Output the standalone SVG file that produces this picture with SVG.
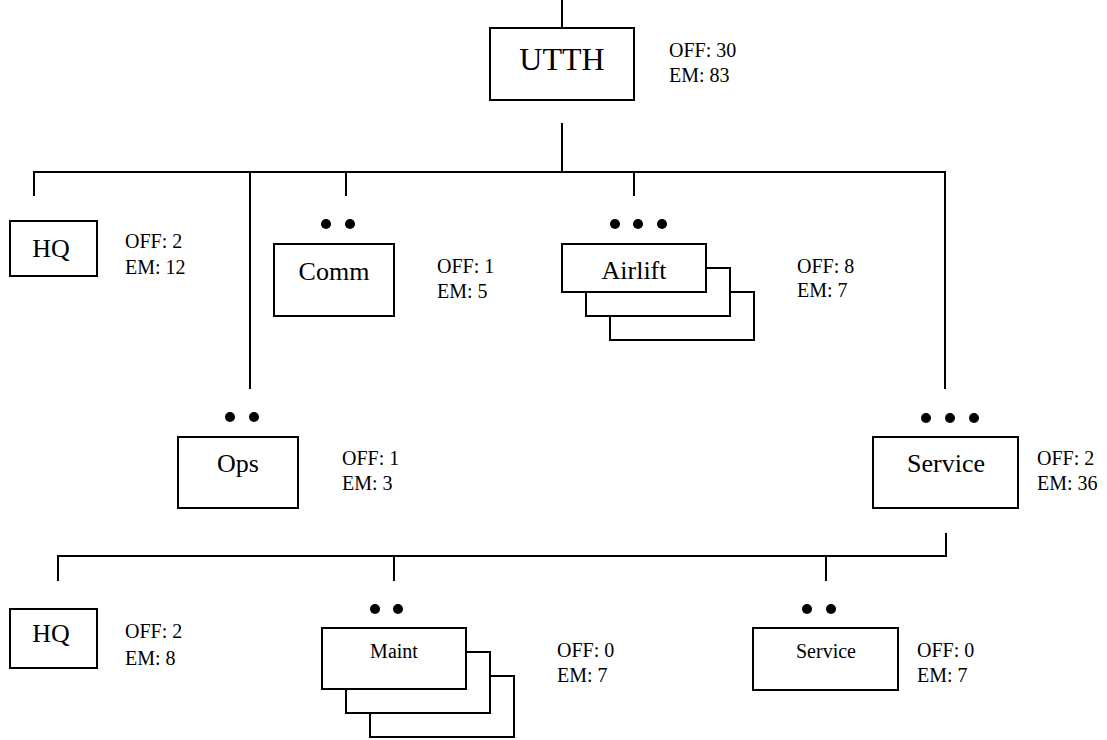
<svg xmlns="http://www.w3.org/2000/svg" width="1107" height="740" viewBox="0 0 1107 740">
<style>
.box{fill:#fff;stroke:#000;stroke-width:2}
.ln{stroke:#000;stroke-width:2;fill:none}
.t{font-family:"Liberation Serif","Times New Roman","DejaVu Serif",serif;fill:#000;text-anchor:middle}
.big{font-size:32px}
.mid{font-size:26px}
.sm{font-size:20px}
.info{font-family:"Liberation Serif","Times New Roman","DejaVu Serif",serif;font-size:20px;fill:#000}
.dot{fill:#000}
</style>
<rect width="1107" height="740" fill="#fff"/>
<g id="connectors">
<line class="ln" x1="562" y1="0" x2="562" y2="28"/>
<line class="ln" x1="562" y1="123" x2="562" y2="172"/>
<line class="ln" x1="33" y1="172" x2="946" y2="172"/>
<line class="ln" x1="34" y1="171" x2="34" y2="196"/>
<line class="ln" x1="250" y1="171" x2="250" y2="389"/>
<line class="ln" x1="346" y1="171" x2="346" y2="196"/>
<line class="ln" x1="634" y1="171" x2="634" y2="196"/>
<line class="ln" x1="945" y1="171" x2="945" y2="389"/>
<line class="ln" x1="946" y1="533" x2="946" y2="557"/>
<line class="ln" x1="57" y1="556" x2="947" y2="556"/>
<line class="ln" x1="58" y1="555" x2="58" y2="581"/>
<line class="ln" x1="394" y1="555" x2="394" y2="581"/>
<line class="ln" x1="826" y1="555" x2="826" y2="581"/>
</g>
<g id="utth">
<rect class="box" x="490" y="28" width="144" height="72"/>
<text class="t big" x="562" y="70">UTTH</text>
<text class="info" x="669" y="57">OFF: 30</text>
<text class="info" x="669" y="82">EM: 83</text>
</g>
<g id="hq1">
<rect class="box" x="10" y="221" width="87" height="55"/>
<text class="t mid" x="51" y="257">HQ</text>
<text class="info" x="125" y="248">OFF: 2</text>
<text class="info" x="125" y="274">EM: 12</text>
</g>
<g id="comm">
<circle class="dot" cx="326" cy="224" r="5"/>
<circle class="dot" cx="350" cy="224" r="5"/>
<rect class="box" x="274" y="244" width="120" height="72"/>
<text class="t mid" x="334" y="280">Comm</text>
<text class="info" x="437" y="273">OFF: 1</text>
<text class="info" x="437" y="298">EM: 5</text>
</g>
<g id="airlift">
<circle class="dot" cx="615" cy="224" r="5"/>
<circle class="dot" cx="638" cy="224" r="5"/>
<circle class="dot" cx="662" cy="224" r="5"/>
<rect class="box" x="610" y="292" width="144" height="48"/>
<rect class="box" x="586" y="268" width="144" height="48"/>
<rect class="box" x="562" y="244" width="144" height="48"/>
<text class="t mid" x="634" y="279">Airlift</text>
<text class="info" x="797" y="273">OFF: 8</text>
<text class="info" x="797" y="297">EM: 7</text>
</g>
<g id="ops">
<circle class="dot" cx="230" cy="417" r="5"/>
<circle class="dot" cx="254" cy="417" r="5"/>
<rect class="box" x="178" y="437" width="120" height="71"/>
<text class="t mid" x="238" y="472">Ops</text>
<text class="info" x="342" y="465">OFF: 1</text>
<text class="info" x="342" y="490">EM: 3</text>
</g>
<g id="service1">
<circle class="dot" cx="926" cy="418" r="5"/>
<circle class="dot" cx="950" cy="418" r="5"/>
<circle class="dot" cx="974" cy="418" r="5"/>
<rect class="box" x="873" y="437" width="145" height="71"/>
<text class="t mid" x="946" y="472">Service</text>
<text class="info" x="1037" y="465">OFF: 2</text>
<text class="info" x="1037" y="490">EM: 36</text>
</g>
<g id="hq2">
<rect class="box" x="10" y="609" width="87" height="59"/>
<text class="t mid" x="51" y="642">HQ</text>
<text class="info" x="125" y="638">OFF: 2</text>
<text class="info" x="125" y="665">EM: 8</text>
</g>
<g id="maint">
<circle class="dot" cx="375" cy="609" r="5"/>
<circle class="dot" cx="398" cy="609" r="5"/>
<rect class="box" x="370" y="676" width="144" height="61"/>
<rect class="box" x="346" y="652" width="144" height="61"/>
<rect class="box" x="322" y="628" width="144" height="61"/>
<text class="t sm" x="394" y="658">Maint</text>
<text class="info" x="557" y="657">OFF: 0</text>
<text class="info" x="557" y="682">EM: 7</text>
</g>
<g id="service2">
<circle class="dot" cx="807" cy="609" r="5"/>
<circle class="dot" cx="831" cy="609" r="5"/>
<rect class="box" x="753" y="628" width="145" height="62"/>
<text class="t sm" x="826" y="658">Service</text>
<text class="info" x="917" y="657">OFF: 0</text>
<text class="info" x="917" y="682">EM: 7</text>
</g>
</svg>
